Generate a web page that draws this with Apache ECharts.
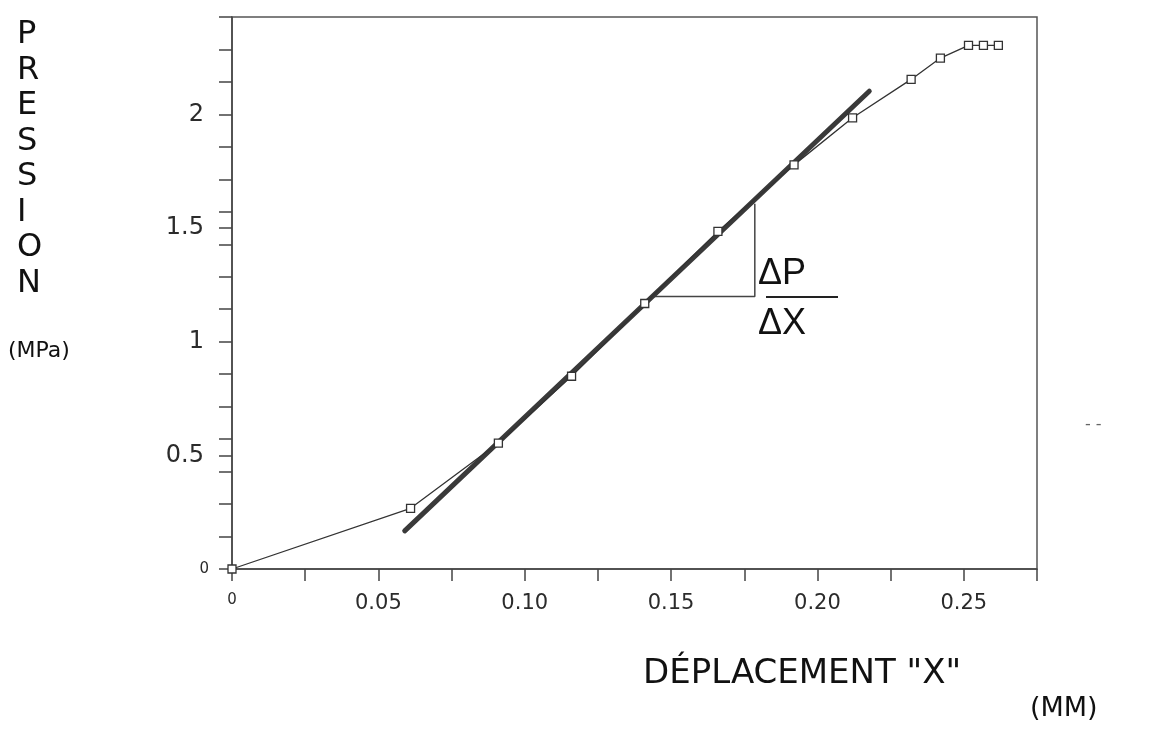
<!DOCTYPE html>
<html>
<head>
<meta charset="utf-8">
<script src="https://cdn.jsdelivr.net/npm/echarts@6/dist/echarts.min.js"></script>
<style>
  html, body { margin: 0; padding: 0; background: #fff; }
  #chart { width: 1157px; height: 732px; }
</style>
</head>
<body>
<div id="chart"></div>
<script>
// measured points (deplacement mm, pression MPa)
var dispX = [0, 0.061, 0.091, 0.116, 0.141, 0.166, 0.192, 0.212, 0.232, 0.242, 0.2516, 0.2567, 0.2618];
var pression = [0, 0.267, 0.554, 0.848, 1.168, 1.485, 1.778, 1.985, 2.154, 2.248, 2.304, 2.304, 2.304];

// straight fitted line
var fitX = [0.059, 0.2177];
var fitP = [0.168, 2.102];

// slope triangle
var triX = [0.1442, 0.1786, 0.1786];
var triP = [1.199, 1.199, 1.607];

// tick labels
var xTickLabels = ['0', '0.05', '0.10', '0.15', '0.20', '0.25'];
var yTickLabels = ['0', '0.5', '1', '1.5', '2'];

var X_MAX = 0.275, Y_MAX = 17 / 7;
var ink = '#2b2b2b';
var font = 'DejaVu Sans';

function zip(a, b){
    var out = [];
    for (var i = 0; i < a.length; i++) out.push([a[i], b[i]]);
    return out;
}

var chart = echarts.init(document.getElementById('chart'));

var option = {
    animation: false,
    backgroundColor: '#fff',
    grid: {
        left: 232, right: 120, top: 17, bottom: 163,
        show: true, borderColor: '#555', borderWidth: 1.5
    },
    xAxis: {
        type: 'value', min: 0, max: X_MAX, interval: 0.025,
        axisLine: {lineStyle: {color: '#444', width: 1.5}},
        axisTick: {inside: false, length: 12, lineStyle: {color: '#444', width: 1.5}},
        splitLine: {show: false},
        axisLabel: {
            margin: 24, color: ink, fontFamily: font, fontSize: 21,
            formatter: function(v){
                var k = Math.round(v / 0.05 * 1000) / 1000;
                if (Math.abs(k - Math.round(k)) > 1e-6) return '';
                var lbl = xTickLabels[Math.round(k)];
                if (lbl === undefined) return '';
                return lbl === '0' ? '{s|0}' : lbl;
            },
            rich: {s: {fontSize: 15, fontFamily: font, color: ink}}
        }
    },
    yAxis: [{
        type: 'value', min: 0, max: Y_MAX, interval: 0.5,
        axisLine: {lineStyle: {color: '#444', width: 1.5}},
        axisTick: {length: 13, lineStyle: {color: '#444', width: 1.5}},
        splitLine: {show: false},
        axisLabel: {
            margin: 28, color: ink, fontFamily: font, fontSize: 24,
            formatter: function(v){
                var k = v / 0.5;
                if (Math.abs(k - Math.round(k)) > 1e-6) return '';
                var lbl = yTickLabels[Math.round(k)];
                if (lbl === undefined) return '';
                return lbl === '0' ? '{s|0}' : lbl;
            },
            rich: {s: {fontSize: 15, fontFamily: font, color: ink, padding: [0, -5, 0, 0]}}
        }
    }, {
        type: 'value', min: 0, max: Y_MAX, interval: 1 / 7, position: 'left',
        axisLine: {show: false},
        axisTick: {length: 13, lineStyle: {color: '#444', width: 1.5}},
        axisLabel: {show: false},
        splitLine: {show: false}
    }],
    series: [{
        name: 'fit',
        type: 'line',
        data: zip(fitX, fitP),
        symbol: 'none',
        lineStyle: {color: '#3a3a3a', width: 5, cap: 'round'},
        z: 3
    }, {
        name: 'triangle',
        type: 'line',
        data: zip(triX, triP),
        symbol: 'none',
        lineStyle: {color: '#444', width: 1.5},
        z: 2
    }, {
        name: 'pression',
        type: 'line',
        data: zip(dispX, pression),
        symbol: 'rect',
        symbolSize: 8,
        itemStyle: {color: '#fff', borderColor: '#333', borderWidth: 1.3},
        lineStyle: {color: '#333', width: 1.3},
        z: 4
    }],
    graphic: [
        {type: 'text', left: 17, top: 17, style: {
            text: 'P\nR\nE\nS\nS\nI\nO\nN', fill: '#111',
            font: '32px "DejaVu Sans"', lineHeight: 35.5, align: 'center'
        }},
        {type: 'text', left: 8, top: 340, style: {
            text: '(MPa)', fill: '#111', font: '22px "DejaVu Sans"'
        }},
        {type: 'text', left: 643, top: 657, style: {
            text: 'DÉPLACEMENT "X"', fill: '#111', font: '34px "DejaVu Sans"'
        }},
        {type: 'text', left: 1030, top: 695, style: {
            text: '(MM)', fill: '#111', font: '27px "DejaVu Sans"'
        }},
        {type: 'text', left: 758, top: 256, style: {
            text: 'ΔP', fill: '#111', font: '36px "Liberation Sans"'
        }},
        {type: 'line', shape: {x1: 766, y1: 297, x2: 838, y2: 297},
            style: {stroke: '#222', lineWidth: 2}},
        {type: 'text', left: 758, top: 306, style: {
            text: 'ΔX', fill: '#111', font: '36px "Liberation Sans"'
        }},
        {type: 'text', left: 1085, top: 417, style: {
            text: '- -', fill: '#666', font: '16px "DejaVu Sans"'
        }}
    ]
};

chart.setOption(option);
</script>
</body>
</html>
